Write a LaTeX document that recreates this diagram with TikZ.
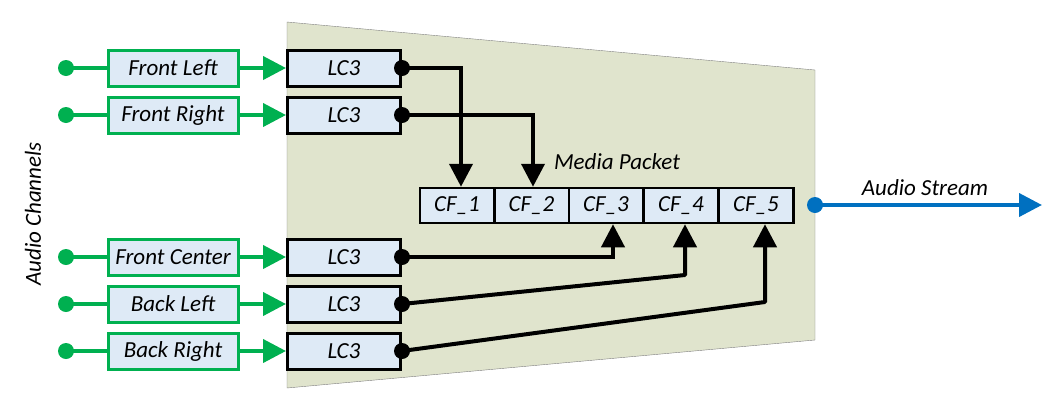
\documentclass[tikz,border=0pt]{standalone}
\usepackage{fontspec}
\setmainfont{Carlito}
\usetikzlibrary{arrows.meta}
\definecolor{chgreen}{RGB}{0,176,80}
\definecolor{boxblue}{RGB}{222,234,246}
\definecolor{packbg}{RGB}{224,228,205}
\definecolor{strblue}{RGB}{0,112,192}

\begin{document}
\begin{tikzpicture}[x=1pt,y=-1pt,
  font=\fontsize{23}{26}\selectfont\itshape,
  chanbox/.style={draw=chgreen,line width=3pt,fill=boxblue,minimum width=130pt,minimum height=36pt,inner sep=0pt},
  codec/.style={draw=black,line width=3pt,fill=boxblue,minimum width=113pt,minimum height=36pt,inner sep=0pt},
  frame/.style={draw=black,line width=2.5pt,fill=boxblue,minimum width=74.5pt,minimum height=35pt,inner sep=0pt},
  gline/.style={chgreen,line width=4pt},
  bline/.style={black,line width=4pt},
  tipg/.style={-{Triangle[length=23pt,width=23pt]}}]
\useasboundingbox (0,0) rectangle (1055,405);
\draw [fill=packbg, draw=gray, thin] (287,22) -- (815,70) -- (815,340) -- (287,388) -- cycle;
\node [rotate=90] (axis) at (33,214) {Audio Channels};
% the five channels
\foreach \y/\nm/\lab in {68/fl/Front Left, 115/fr/Front Right, 257/fc/Front Center, 304/bl/Back Left, 351/br/Back Right}{
  \coordinate (in\nm) at (66,\y);
  \node [chanbox] (\nm) at (173,\y) {\lab};
  \node [codec] (lc\nm) at (344,\y) {LC3};
  \draw [gline] (in\nm) -- (\nm.west);
  \fill [chgreen] (in\nm) circle (8pt);
  \draw [gline,tipg] (\nm.east) -- (lc\nm.west);
}
% media packet
\foreach \i/\x in {1/457,2/531.5,3/606,4/681,5/756}
  \node [frame] (cf\i) at (\x,205.5) {CF\_\i};
\node (mp) at (617,162) {Media Packet};
\coordinate (k1) at (461,68);
\coordinate (k2) at (533,115);
\coordinate (k3) at (613,257);
\coordinate (k4) at (685,275);
\coordinate (k5) at (765,302);
\draw [bline,tipg] (lcfl.east) -- (k1) -- (k1 |- cf1.north);
\draw [bline,tipg] (lcfr.east) -- (k2) -- (k2 |- cf2.north);
\draw [bline,tipg] (lcfc.east) -- (k3) -- (k3 |- cf3.south);
\draw [bline,tipg,line join=round] (lcbl.east) -- (k4) -- (k4 |- cf4.south);
\draw [bline,tipg,line join=round] (lcbr.east) -- (k5) -- (k5 |- cf5.south);
\foreach \nm in {fl,fr,fc,bl,br}
  \fill (lc\nm.east) circle (8pt);
% output
\coordinate (out) at (815,205);
\coordinate (end) at (1042,205);
\draw [strblue,line width=4pt,tipg] (out) -- (end);
\fill [strblue] (out) circle (8pt);
\node (as) at (925,188) {Audio Stream};
\end{tikzpicture}
\end{document}
